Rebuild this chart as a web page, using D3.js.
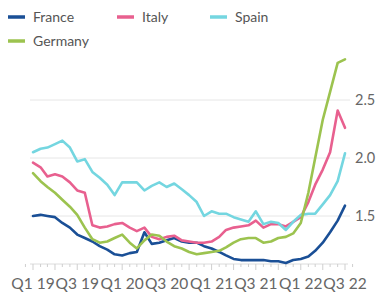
<!DOCTYPE html>
<html><head><meta charset="utf-8">
<script src="https://cdn.jsdelivr.net/npm/d3@7"></script>
<style>
body{margin:0;background:#fff;}
svg{display:block;font-family:Lato,"Open Sans",sans-serif;}
</style></head>
<body><svg id="c" width="378" height="295"></svg>
<script>
const seriesNames = ["France","Italy","Spain","Germany"];
const seriesColors = ["#1a4f96","#e8608f","#74d6e0","#9cc34f"];
const france = [1.50,1.51,1.50,1.49,1.44,1.40,1.34,1.31,1.28,1.24,1.21,1.17,1.16,1.18,1.19,1.36,1.26,1.27,1.29,1.31,1.28,1.27,1.27,1.24,1.22,1.19,1.16,1.13,1.12,1.12,1.12,1.12,1.11,1.11,1.095,1.12,1.13,1.15,1.20,1.27,1.36,1.46,1.59];
const italy = [1.96,1.92,1.84,1.86,1.84,1.79,1.72,1.70,1.42,1.40,1.41,1.43,1.44,1.40,1.37,1.40,1.32,1.30,1.32,1.33,1.29,1.28,1.27,1.27,1.28,1.32,1.38,1.40,1.41,1.42,1.46,1.40,1.43,1.43,1.41,1.45,1.49,1.62,1.77,1.90,2.05,2.41,2.26];
const spain = [2.05,2.08,2.09,2.12,2.15,2.09,1.97,1.99,1.88,1.83,1.77,1.68,1.79,1.79,1.79,1.72,1.76,1.79,1.75,1.78,1.73,1.68,1.62,1.50,1.54,1.52,1.52,1.49,1.47,1.45,1.54,1.43,1.45,1.44,1.38,1.45,1.51,1.52,1.52,1.60,1.68,1.80,2.04];
const germany = [1.87,1.80,1.75,1.70,1.64,1.58,1.51,1.40,1.30,1.27,1.28,1.31,1.34,1.27,1.22,1.29,1.34,1.33,1.28,1.24,1.22,1.19,1.17,1.18,1.19,1.20,1.23,1.27,1.30,1.31,1.31,1.27,1.28,1.31,1.32,1.35,1.44,1.70,2.00,2.33,2.57,2.82,2.85];
const yTicks = [1.5,2.0,2.5];
const xTickLabels = ["Q1 19","Q3 19","Q1 20","Q3 20","Q1 21","Q3 21","Q1 22","Q3 22"];

const months = d3.timeMonth.range(new Date(2019,0,1), new Date(2022,7,1));
const allSeries = [france, italy, spain, germany];

const svg = d3.select("#c");
const x = d3.scaleTime().domain([months[0], months[months.length-1]]).range([33,345]);
const y = d3.scaleLinear().domain([1,2.5]).range([274,100]);

// grid
svg.append("g").selectAll("line").data(yTicks).join("line")
  .attr("x1",30).attr("x2",350)
  .attr("y1",d=>y(d)).attr("y2",d=>y(d))
  .attr("stroke","#e6e6e6").attr("stroke-width",1);
svg.append("g").selectAll("text").data(yTicks).join("text")
  .attr("x",355).attr("y",d=>y(d)+5)
  .attr("font-size",14.5).attr("fill","#666")
  .text(d=>d3.format(".1f")(d));

// x axis
const axisY = 264;
svg.append("line").attr("x1",30).attr("x2",348).attr("y1",axisY).attr("y2",axisY)
  .attr("stroke","#dcdcdc");
const tickMonths = d3.timeMonth.range(new Date(2018,11,1), new Date(2022,8,1));
svg.append("g").selectAll("line").data(tickMonths).join("line")
  .attr("x1",d=>x(d)).attr("x2",d=>x(d))
  .attr("y1",axisY).attr("y2",d=>axisY + (d.getMonth()%3===0?6:3))
  .attr("stroke","#cfcfcf");
const labelDates = months.filter(d=>d.getMonth()%6===0);
svg.append("g").selectAll("text").data(labelDates).join("text")
  .attr("x",d=>x(d)).attr("y",289).attr("text-anchor","middle")
  .attr("font-size",15.5).attr("fill","#666")
  .text((d,i)=>xTickLabels[i]);

// lines
const line = d3.line().x((d,i)=>x(months[i])).y(d=>y(d)).curve(d3.curveLinear);
svg.append("g").selectAll("path").data(allSeries).join("path")
  .attr("d",d=>line(d)).attr("fill","none")
  .attr("stroke",(d,i)=>seriesColors[i]).attr("stroke-width",2.6)
  .attr("stroke-linejoin","round").attr("stroke-linecap","round");

// legend
const legPos = [[8,17],[117,17],[210,17],[8,41]];
const leg = svg.append("g").selectAll("g").data(seriesNames).join("g")
  .attr("transform",(d,i)=>`translate(${legPos[i][0]},${legPos[i][1]})`);
leg.append("line").attr("x1",0).attr("x2",17).attr("y1",0).attr("y2",0)
  .attr("stroke",(d,i)=>seriesColors[i]).attr("stroke-width",3.5);
leg.append("text").attr("x",25).attr("y",5).attr("font-size",14).attr("fill","#555")
  .text(d=>d);
</script></body></html>
